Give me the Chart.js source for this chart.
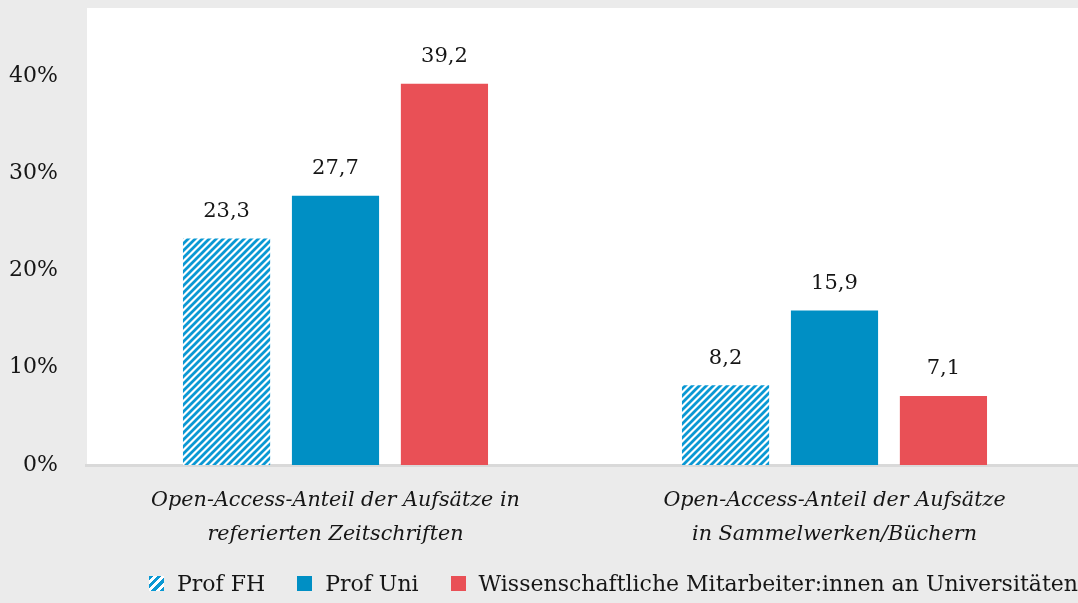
<!DOCTYPE html>
<html lang="de">
<head>
<meta charset="utf-8">
<title>Open-Access-Anteil</title>
<script src="https://cdn.jsdelivr.net/npm/chart.js@4/dist/chart.umd.min.js"></script>
<style>
  html, body { margin: 0; padding: 0; background: #ebebeb; overflow: hidden; }
  #wrap { position: relative; width: 1090px; height: 603px; }
  #legend {
    position: absolute; left: 149px; top: 571px;
    display: flex; align-items: center;
    font-family: "DejaVu Serif", serif; font-size: 22px; color: #161616;
    white-space: nowrap;
  }
  #legend .item { display: flex; align-items: center; margin-right: 32px; }
  #legend .box { width: 15px; height: 15px; margin-right: 13px; }
</style>
</head>
<body>
<div id="wrap">
  <canvas id="chart" width="1090" height="603"></canvas>
  <div id="legend"></div>
</div>
<script>
// Data
var categories = [
  ["Open-Access-Anteil der Aufsätze in", "referierten Zeitschriften"],
  ["Open-Access-Anteil der Aufsätze", "in Sammelwerken/Büchern"]
];
var seriesNames = ["Prof FH", "Prof Uni", "Wissenschaftliche Mitarbeiter:innen an Universitäten"];
var profFH = [23.3, 8.2];
var profUni = [27.7, 15.9];
var wissMitarbeiter = [39.2, 7.1];
var yTicks = [0, 10, 20, 30, 40];

var BLUE = "#008fc4";
var HATCH_BLUE = "#0a98d3";
var RED = "#e95056";
var TEXT = "#161616";

// diagonal hatch for Prof FH
function makeHatch() {
  var c = document.createElement("canvas");
  c.width = 7; c.height = 7;
  var g = c.getContext("2d");
  g.fillStyle = "#fff";
  g.fillRect(0, 0, 7, 7);
  g.strokeStyle = HATCH_BLUE;
  g.lineWidth = 2.8;
  g.beginPath();
  g.moveTo(-1, 8); g.lineTo(8, -1);
  g.moveTo(-1, 1); g.lineTo(1, -1);
  g.moveTo(6, 8); g.lineTo(8, 6);
  g.stroke();
  return g.createPattern(c, "repeat");
}

function fmt(v) {
  return v.toFixed(1).replace(".", ",");
}

// white plot panel behind the bars
var panelPlugin = {
  id: "panel",
  beforeDraw: function (chart) {
    var a = chart.chartArea, ctx = chart.ctx;
    ctx.save();
    ctx.fillStyle = "#fff";
    ctx.fillRect(a.left + 1, a.top, a.right - a.left, a.bottom - a.top);
    ctx.restore();
  }
};

// numbers above the bars
var valueLabels = {
  id: "valueLabels",
  afterDatasetsDraw: function (chart) {
    var ctx = chart.ctx;
    ctx.save();
    ctx.font = '21px "DejaVu Serif", serif';
    ctx.fillStyle = TEXT;
    ctx.textAlign = "center";
    ctx.textBaseline = "middle";
    chart.data.datasets.forEach(function (ds, i) {
      chart.getDatasetMeta(i).data.forEach(function (bar, j) {
        ctx.fillText(fmt(ds.data[j]), bar.x, bar.y - 27);
      });
    });
    ctx.restore();
  }
};

var hatch = makeHatch();
var colors = [hatch, BLUE, RED];

var chart = new Chart(document.getElementById("chart"), {
  type: "bar",
  data: {
    labels: categories,
    datasets: [
      { label: seriesNames[0], data: profFH, backgroundColor: hatch },
      { label: seriesNames[1], data: profUni, backgroundColor: BLUE },
      { label: seriesNames[2], data: wissMitarbeiter, backgroundColor: RED }
    ]
  },
  options: {
    responsive: false,
    animation: false,
    categoryPercentage: 0.655,
    barPercentage: 0.8,
    layout: { padding: { top: 8, right: 6, left: 0, bottom: 0 } },
    scales: {
      x: {
        grid: { display: false, drawTicks: false },
        border: { display: true, color: "#d9d9d9", width: 3 },
        ticks: {
          padding: 19,
          color: TEXT,
          maxRotation: 0,
          font: { family: '"DejaVu Serif", serif', size: 20.7, style: "italic", lineHeight: 1.64 }
        },
        afterFit: function (s) {
          s.height = 138;
          s.paddingTop = 0; s.paddingBottom = 0;
        }
      },
      y: {
        min: 0,
        max: 47,
        grid: { display: false, drawTicks: false },
        border: { display: false },
        afterBuildTicks: function (s) {
          s.ticks = yTicks.map(function (v) { return { value: v }; });
        },
        ticks: {
          padding: 28,
          color: TEXT,
          font: { family: '"DejaVu Serif", serif', size: 22 },
          callback: function (v) { return v + "%"; }
        },
        afterFit: function (s) {
          s.width = 86;
          s.paddingTop = 0; s.paddingBottom = 0;
        }
      }
    },
    plugins: {
      legend: { display: false },
      tooltip: { enabled: false }
    }
  },
  plugins: [panelPlugin, valueLabels]
});

// legend built from the datasets
var legendEl = document.getElementById("legend");
chart.data.datasets.forEach(function (ds, i) {
  var item = document.createElement("div");
  item.className = "item";
  var box = document.createElement("span");
  box.className = "box";
  if (i === 0) {
    box.style.background = "repeating-linear-gradient(135deg, " + HATCH_BLUE + " 0 3px, #fff 3px 6px)";
  } else {
    box.style.background = colors[i];
  }
  var txt = document.createElement("span");
  txt.textContent = ds.label;
  item.appendChild(box);
  item.appendChild(txt);
  legendEl.appendChild(item);
});
</script>
</body>
</html>
